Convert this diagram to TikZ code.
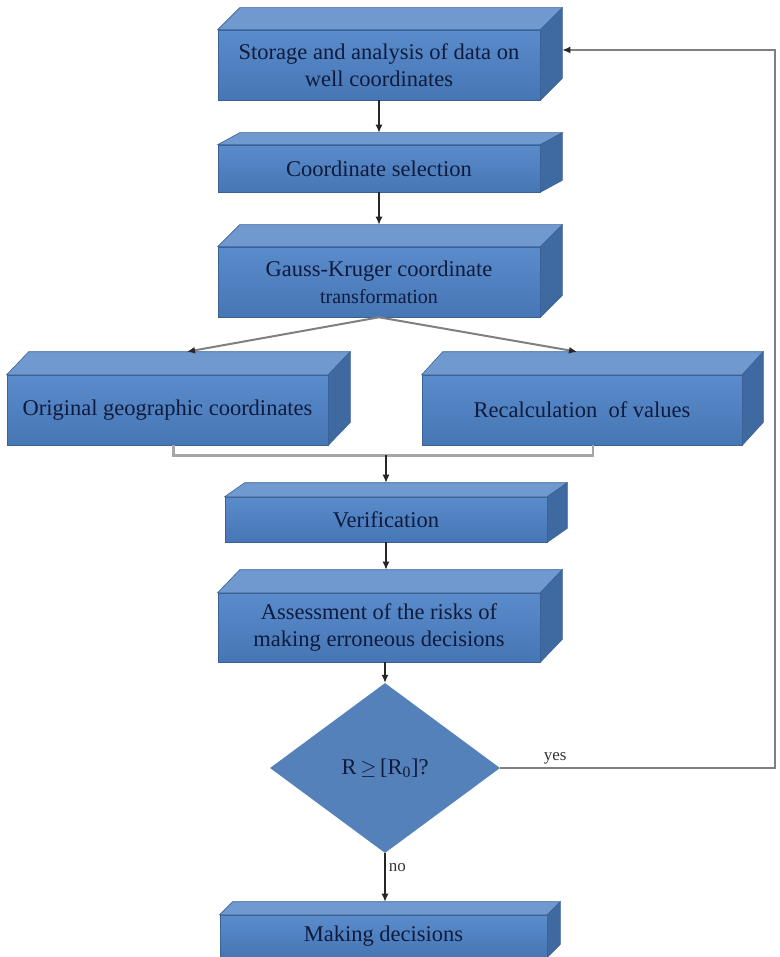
\documentclass[tikz,border=0pt]{standalone}
\usepackage{fontspec}
\setmainfont{Liberation Serif}
\usepackage{tikz}
\usetikzlibrary{positioning}
\usetikzlibrary{arrows.meta,shapes.geometric}
\usetikzlibrary{calc}
\definecolor{frontlight}{HTML}{5A8BCB}
\definecolor{frontdark}{HTML}{4676B4}
\definecolor{toplight}{HTML}{7099D0}
\definecolor{sidedark}{HTML}{3E69A1}
\definecolor{edgeblue}{HTML}{3B6296}
\definecolor{inkblue}{HTML}{0F1B3D}
\tikzstyle{box}=[rectangle,top color=frontlight,bottom color=frontdark,draw=edgeblue,line width=0.6pt,inner sep=1pt,align=center,text=inkblue,font=\fontsize{22.5}{27}\selectfont]
\tikzstyle{topface}=[fill=toplight,draw=edgeblue,line width=0.6pt]
\tikzstyle{sideface}=[fill=sidedark,draw=edgeblue,line width=0.6pt]
\tikzstyle{decision}=[diamond,fill=frontdark!92!white,minimum width=230pt,minimum height=170pt,inner sep=0pt,text=inkblue,font=\fontsize{22.5}{27}\selectfont]
\tikzstyle{flow} = [draw,line width=1.2pt,black!85,-{Latex[length=8pt,width=7pt]}]
\tikzstyle{branch} = [draw,line width=2pt,black!50,-{Latex[length=8pt,width=7pt,color=black!85]}]
\tikzstyle{bracket} = [draw,line width=2.5pt,black!35]
\tikzstyle{loopline} = [draw,line width=2pt,black!50,-{Latex[length=8pt,width=7pt,color=black!85]}]
\tikzstyle{answer} = [font=\fontsize{17}{20}\selectfont,text=black!80]

\begin{document}
\begin{tikzpicture}[x=1pt,y=-1pt]
\useasboundingbox (0,0) rectangle (779,957);

%front faces of the blocks
  \foreach \pos/\name/\w/\h/\label in {{(379,65)/store/322/70/{Storage and analysis of data on\\ well coordinates}},
      {(379,168.5)/select/322/47/{Coordinate selection}},
      {(379,282)/gauss/322/70/{Gauss-Kruger coordinate\\ {\fontsize{20}{24}\selectfont transformation}}},
      {(167.5,410)/orig/321/70/{Original geographic coordinates}},
      {(582,410)/recalc/320/70/{Recalculation\ \ of values}},
      {(386,519.5)/verif/322/45/{Verification}},
      {(379,627.5)/assess/322/69/{Assessment of the risks of\\ making erroneous decisions}},
      {(383.5,936)/decide/327/42/{Making decisions}}}
        \node[box,minimum width=\w,minimum height=\h] (\name) at \pos {\label};

%top and side faces
  \foreach \name/\dx/\dy in {store/22/22, select/22/12, gauss/22/22, orig/22/23, recalc/21/23, verif/20/14, assess/22/23, decide/13/13}
  {
    \path[topface] (\name.north west) -- ($(\name.north west)+(\dx,-\dy)$) -- ($(\name.north east)+(\dx,-\dy)$) -- (\name.north east) -- cycle;
    \path[sideface] (\name.north east) -- ($(\name.north east)+(\dx,-\dy)$) -- ($(\name.south east)+(\dx,-\dy)$) -- (\name.south east) -- cycle;
    \coordinate (\name-t) at ($(\name.north)+(0,-\dy)$);
    \coordinate (\name-r) at ($(\name.east)+(\dx,-\dy/2)$);
  }

  \node[decision] (check) at (385,768) {R\,$\geq$\,[R\textsubscript{0}]?};

% helper points
  \coordinate (gl) at ($(orig-t)+(19.5,0)$);
  \coordinate (gr) at ($(recalc-t)+(-5,0)$);
  \coordinate (bl) at ($(orig.south)+(6,0)$);
  \coordinate (br) at ($(recalc.south)+(11,0)$);
  \coordinate (join) at ($(bl -| verif-t)+(0,10)$);
  \coordinate (rail) at (775,50);

% connectors
  \path[flow] (store.south) -- (store.south |- select-t);
  \path[flow] (select.south) -- (select.south |- gauss-t);
  \foreach \dest in {gl, gr}
        \path[branch] (gauss.south) -- (\dest);
  \path[bracket] (bl) |- (join) -| (br);
  \path[flow] (join) -- (verif-t);
  \path[flow] (verif.south) -- (verif.south |- assess-t);
  \path[flow] (assess.south -| check.north) -- (check.north);
  \path[flow] (check.south) -- node[answer,right,pos=0.3] {no} (check.south |- decide-t);
  \path[loopline] (check.east) -- node[answer,above,pos=0.2] {yes} (check.east -| rail) -- (rail) -- (rail -| store-r);

\end{tikzpicture}
\end{document}
